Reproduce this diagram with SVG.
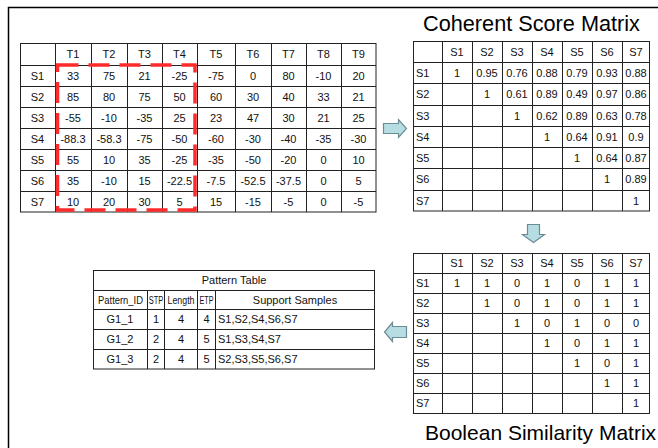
<svg xmlns="http://www.w3.org/2000/svg" width="658" height="448" viewBox="0 0 658 448">
<style>
text{font-family:"Liberation Sans",Arial,sans-serif;font-size:11px;fill:#111}
.c{text-anchor:middle}
.l{text-anchor:start}
.title{font-size:21px;fill:#000}
.hd{font-size:10px}
.grid line{stroke:#222;stroke-width:1}
.box{fill:#fff;stroke:#222;stroke-width:1}
.arrow{fill:#b6dde2;stroke:#6b8c96;stroke-width:1.2}
.sel{fill:none;stroke:#ff2a2a;stroke-width:3.5;stroke-dasharray:21 10}
</style>
<rect x="0" y="0" width="658" height="448" fill="#fff"/>
<path d="M8.5,448 V7.5 H658" fill="none" stroke="#000" stroke-width="1.5"/>

<g id="data-table">
<rect class="box" x="20.5" y="43.5" width="355.5" height="168.5"/>
<g class="grid">
<line x1="55.5" y1="43" x2="55.5" y2="212"/><line x1="91.5" y1="43" x2="91.5" y2="212"/><line x1="127.5" y1="43" x2="127.5" y2="212"/><line x1="162.5" y1="43" x2="162.5" y2="212"/><line x1="197.5" y1="43" x2="197.5" y2="212"/><line x1="235.5" y1="43" x2="235.5" y2="212"/><line x1="271.5" y1="43" x2="271.5" y2="212"/><line x1="306.5" y1="43" x2="306.5" y2="212"/><line x1="341.5" y1="43" x2="341.5" y2="212"/>
<line x1="20" y1="65.5" x2="376" y2="65.5"/><line x1="20" y1="86.5" x2="376" y2="86.5"/><line x1="20" y1="107.5" x2="376" y2="107.5"/><line x1="20" y1="128.5" x2="376" y2="128.5"/><line x1="20" y1="149.5" x2="376" y2="149.5"/><line x1="20" y1="170.5" x2="376" y2="170.5"/><line x1="20" y1="191.5" x2="376" y2="191.5"/>
</g>
<g class="c">
<text x="73" y="58">T1</text><text x="109" y="58">T2</text><text x="144.5" y="58">T3</text><text x="179.5" y="58">T4</text><text x="216" y="58">T5</text><text x="253" y="58">T6</text><text x="288.5" y="58">T7</text><text x="323.5" y="58">T8</text><text x="358.5" y="58">T9</text>
<text x="37.5" y="79.5">S1</text><text x="73" y="79.5">33</text><text x="109" y="79.5">75</text><text x="144.5" y="79.5">21</text><text x="179.5" y="79.5">-25</text><text x="216" y="79.5">-75</text><text x="253" y="79.5">0</text><text x="288.5" y="79.5">80</text><text x="323.5" y="79.5">-10</text><text x="358.5" y="79.5">20</text>
<text x="37.5" y="100.5">S2</text><text x="73" y="100.5">85</text><text x="109" y="100.5">80</text><text x="144.5" y="100.5">75</text><text x="179.5" y="100.5">50</text><text x="216" y="100.5">60</text><text x="253" y="100.5">30</text><text x="288.5" y="100.5">40</text><text x="323.5" y="100.5">33</text><text x="358.5" y="100.5">21</text>
<text x="37.5" y="121.5">S3</text><text x="73" y="121.5">-55</text><text x="109" y="121.5">-10</text><text x="144.5" y="121.5">-35</text><text x="179.5" y="121.5">25</text><text x="216" y="121.5">23</text><text x="253" y="121.5">47</text><text x="288.5" y="121.5">30</text><text x="323.5" y="121.5">21</text><text x="358.5" y="121.5">25</text>
<text x="37.5" y="142.5">S4</text><text x="73" y="142.5">-88.3</text><text x="109" y="142.5">-58.3</text><text x="144.5" y="142.5">-75</text><text x="179.5" y="142.5">-50</text><text x="216" y="142.5">-60</text><text x="253" y="142.5">-30</text><text x="288.5" y="142.5">-40</text><text x="323.5" y="142.5">-35</text><text x="358.5" y="142.5">-30</text>
<text x="37.5" y="163.5">S5</text><text x="73" y="163.5">55</text><text x="109" y="163.5">10</text><text x="144.5" y="163.5">35</text><text x="179.5" y="163.5">-25</text><text x="216" y="163.5">-35</text><text x="253" y="163.5">-50</text><text x="288.5" y="163.5">-20</text><text x="323.5" y="163.5">0</text><text x="358.5" y="163.5">10</text>
<text x="37.5" y="184.5">S6</text><text x="73" y="184.5">35</text><text x="109" y="184.5">-10</text><text x="144.5" y="184.5">15</text><text x="179.5" y="184.5">-22.5</text><text x="216" y="184.5">-7.5</text><text x="253" y="184.5">-52.5</text><text x="288.5" y="184.5">-37.5</text><text x="323.5" y="184.5">0</text><text x="358.5" y="184.5">5</text>
<text x="37.5" y="205.5">S7</text><text x="73" y="205.5">10</text><text x="109" y="205.5">20</text><text x="144.5" y="205.5">30</text><text x="179.5" y="205.5">5</text><text x="216" y="205.5">15</text><text x="253" y="205.5">-15</text><text x="288.5" y="205.5">-5</text><text x="323.5" y="205.5">0</text><text x="358.5" y="205.5">-5</text>
</g>
<rect class="sel" x="57.5" y="65" width="137.5" height="145"/>
</g>

<g id="coherent-score-matrix">
<text class="title" x="423" y="31" style="font-size:21.7px">Coherent Score Matrix</text>
<rect class="box" x="413.5" y="41.5" width="236" height="169.5"/>
<g class="grid">
<line x1="442.5" y1="41" x2="442.5" y2="211"/><line x1="472.5" y1="41" x2="472.5" y2="211"/><line x1="502.5" y1="41" x2="502.5" y2="211"/><line x1="532.5" y1="41" x2="532.5" y2="211"/><line x1="562.5" y1="41" x2="562.5" y2="211"/><line x1="592.5" y1="41" x2="592.5" y2="211"/><line x1="622.5" y1="41" x2="622.5" y2="211"/>
<line x1="413" y1="62.5" x2="650" y2="62.5"/><line x1="413" y1="83.5" x2="650" y2="83.5"/><line x1="413" y1="105.5" x2="650" y2="105.5"/><line x1="413" y1="126.5" x2="650" y2="126.5"/><line x1="413" y1="147.5" x2="650" y2="147.5"/><line x1="413" y1="168.5" x2="650" y2="168.5"/><line x1="413" y1="190.5" x2="650" y2="190.5"/>
</g>
<g class="c">
<text x="457" y="55.5">S1</text><text x="487" y="55.5">S2</text><text x="517" y="55.5">S3</text><text x="547" y="55.5">S4</text><text x="577" y="55.5">S5</text><text x="607" y="55.5">S6</text><text x="636" y="55.5">S7</text>
<text x="457" y="76.5">1</text><text x="487" y="76.5">0.95</text><text x="517" y="76.5">0.76</text><text x="547" y="76.5">0.88</text><text x="577" y="76.5">0.79</text><text x="607" y="76.5">0.93</text><text x="636" y="76.5">0.88</text>
<text x="487" y="98">1</text><text x="517" y="98">0.61</text><text x="547" y="98">0.89</text><text x="577" y="98">0.49</text><text x="607" y="98">0.97</text><text x="636" y="98">0.86</text>
<text x="517" y="119.5">1</text><text x="547" y="119.5">0.62</text><text x="577" y="119.5">0.89</text><text x="607" y="119.5">0.63</text><text x="636" y="119.5">0.78</text>
<text x="547" y="140.5">1</text><text x="577" y="140.5">0.64</text><text x="607" y="140.5">0.91</text><text x="636" y="140.5">0.9</text>
<text x="577" y="161.5">1</text><text x="607" y="161.5">0.64</text><text x="636" y="161.5">0.87</text>
<text x="607" y="183">1</text><text x="636" y="183">0.89</text>
<text x="636" y="204.5">1</text>
</g>
<g class="l">
<text x="416" y="76.5">S1</text><text x="416" y="98">S2</text><text x="416" y="119.5">S3</text><text x="416" y="140.5">S4</text><text x="416" y="161.5">S5</text><text x="416" y="183">S6</text><text x="416" y="204.5">S7</text>
</g>
</g>

<g id="boolean-similarity-matrix">
<rect class="box" x="413.5" y="253.5" width="236" height="160"/>
<g class="grid">
<line x1="442.5" y1="253" x2="442.5" y2="413"/><line x1="472.5" y1="253" x2="472.5" y2="413"/><line x1="502.5" y1="253" x2="502.5" y2="413"/><line x1="532.5" y1="253" x2="532.5" y2="413"/><line x1="562.5" y1="253" x2="562.5" y2="413"/><line x1="592.5" y1="253" x2="592.5" y2="413"/><line x1="622.5" y1="253" x2="622.5" y2="413"/>
<line x1="413" y1="273.5" x2="650" y2="273.5"/><line x1="413" y1="293.5" x2="650" y2="293.5"/><line x1="413" y1="313.5" x2="650" y2="313.5"/><line x1="413" y1="333.5" x2="650" y2="333.5"/><line x1="413" y1="353.5" x2="650" y2="353.5"/><line x1="413" y1="373.5" x2="650" y2="373.5"/><line x1="413" y1="393.5" x2="650" y2="393.5"/>
</g>
<g class="c">
<text x="457" y="267">S1</text><text x="487" y="267">S2</text><text x="517" y="267">S3</text><text x="547" y="267">S4</text><text x="577" y="267">S5</text><text x="607" y="267">S6</text><text x="636" y="267">S7</text>
<text x="457" y="287">1</text><text x="487" y="287">1</text><text x="517" y="287">0</text><text x="547" y="287">1</text><text x="577" y="287">0</text><text x="607" y="287">1</text><text x="636" y="287">1</text>
<text x="487" y="307">1</text><text x="517" y="307">0</text><text x="547" y="307">1</text><text x="577" y="307">0</text><text x="607" y="307">1</text><text x="636" y="307">1</text>
<text x="517" y="327">1</text><text x="547" y="327">0</text><text x="577" y="327">1</text><text x="607" y="327">0</text><text x="636" y="327">0</text>
<text x="547" y="347">1</text><text x="577" y="347">0</text><text x="607" y="347">1</text><text x="636" y="347">1</text>
<text x="577" y="367">1</text><text x="607" y="367">0</text><text x="636" y="367">1</text>
<text x="607" y="387">1</text><text x="636" y="387">1</text>
<text x="636" y="407">1</text>
</g>
<g class="l">
<text x="416" y="287">S1</text><text x="416" y="307">S2</text><text x="416" y="327">S3</text><text x="416" y="347">S4</text><text x="416" y="367">S5</text><text x="416" y="387">S6</text><text x="416" y="407">S7</text>
</g>
<text class="title" x="425" y="440">Boolean Similarity Matrix</text>
</g>

<g id="pattern-table">
<rect class="box" x="93.5" y="270.5" width="281" height="98.5"/>
<g class="grid">
<line x1="93" y1="290.5" x2="375" y2="290.5"/><line x1="93" y1="309.5" x2="375" y2="309.5"/><line x1="93" y1="329.5" x2="375" y2="329.5"/><line x1="93" y1="349.5" x2="375" y2="349.5"/>
<line x1="147.5" y1="290" x2="147.5" y2="369"/><line x1="164.5" y1="290" x2="164.5" y2="369"/><line x1="197.5" y1="290" x2="197.5" y2="369"/><line x1="215.5" y1="290" x2="215.5" y2="369"/>
</g>
<g class="c">
<text x="234" y="284">Pattern Table</text>
<text class="hd" x="120.5" y="303.5" textLength="45" lengthAdjust="spacingAndGlyphs">Pattern_ID</text><text class="hd" x="156" y="303.5" textLength="14.5" lengthAdjust="spacingAndGlyphs">STP</text><text class="hd" x="181" y="303.5" textLength="27" lengthAdjust="spacingAndGlyphs">Length</text><text class="hd" x="206.5" y="303.5" textLength="14" lengthAdjust="spacingAndGlyphs">ETP</text><text x="295" y="303.5">Support Samples</text>
<text x="120" y="323">G1_1</text><text x="156" y="323">1</text><text x="181" y="323">4</text><text x="206.5" y="323">4</text>
<text x="120" y="343">G1_2</text><text x="156" y="343">2</text><text x="181" y="343">4</text><text x="206.5" y="343">5</text>
<text x="120" y="363">G1_3</text><text x="156" y="363">2</text><text x="181" y="363">4</text><text x="206.5" y="363">5</text>
</g>
<g class="l">
<text x="218" y="323">S1,S2,S4,S6,S7</text>
<text x="218" y="343">S1,S3,S4,S7</text>
<text x="218" y="363">S2,S3,S5,S6,S7</text>
</g>
</g>

<g id="connectors">
<path class="arrow" d="M383.5,123.5 H398.5 V119.5 L406.5,128.5 L398.5,137.5 V133.5 H383.5 Z"/>
<path class="arrow" d="M527.5,224.5 H539.5 V234.5 H544.5 L533.5,242.5 L522.5,234.5 H527.5 Z"/>
<path class="arrow" d="M406.5,326.5 H392.5 V322.5 L384.5,332 L392.5,341.5 V337.5 H406.5 Z"/>
</g>
</svg>
